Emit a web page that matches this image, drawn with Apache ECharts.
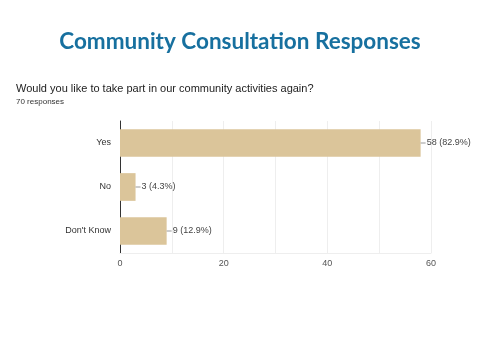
<!DOCTYPE html>
<html><head><meta charset="utf-8">
<script src="https://cdn.jsdelivr.net/npm/echarts@6/dist/echarts.min.js"></script>
<style>html,body{margin:0;padding:0;background:#fff}#c{width:480px;height:360px}</style>
</head><body><div id="c"></div>
<script>
const categories = ['Yes', 'No', "Don't Know"];
const counts = [58, 3, 9];
const percents = ['82.9%', '4.3%', '12.9%'];
const totalResponses = 70;
const xTicks = [0, 20, 40, 60];

const F = '"Liberation Sans", Arial, sans-serif';
const chart = echarts.init(document.getElementById('c'), null, {renderer: 'canvas'});
chart.setOption({
  animation: false,
  backgroundColor: '#fff',
  title: [
    {text: 'Community Consultation Responses', left: 'center', top: 30, padding: 0,
     textStyle: {fontFamily: 'Lato', fontWeight: 'bold', fontSize: 22.5, color: '#17709f'}},
    {text: 'Would you like to take part in our community activities again?', left: 16, top: 83, padding: 0,
     textStyle: {fontFamily: F, fontWeight: 'normal', fontSize: 11, color: '#222'}},
    {text: totalResponses + ' responses', left: 16, top: 98, padding: 0,
     textStyle: {fontFamily: F, fontWeight: 'normal', fontSize: 8, color: '#333'}}
  ],
  grid: {left: 120, right: 49, top: 121, bottom: 107, containLabel: false},
  xAxis: {
    type: 'value', min: 0, max: 60, interval: 10,
    axisLine: {show: true, lineStyle: {color: '#eee'}},
    axisTick: {show: false},
    splitLine: {show: true, lineStyle: {color: '#eee'}},
    axisLabel: {
      color: '#555', fontFamily: F, fontSize: 9, margin: 6,
      formatter: v => xTicks.includes(v) ? String(v) : ''
    }
  },
  yAxis: {
    type: 'category', data: categories, inverse: true,
    axisLine: {show: true, lineStyle: {color: '#333'}},
    axisTick: {show: false},
    axisLabel: {color: '#333', fontFamily: F, fontSize: 9, margin: 9}
  },
  series: [{
    type: 'bar', data: counts, barWidth: '63%',
    itemStyle: {color: '#dbc59a'},
    label: {
      show: true, position: 'right', distance: 0,
      formatter: p => '{l|}{t|' + counts[p.dataIndex] + ' (' + percents[p.dataIndex] + ')}',
      rich: {
        l: {width: 5, height: 1, backgroundColor: '#999'},
        t: {color: '#444', fontFamily: F, fontSize: 9, padding: [0, 0, 0, 1]}
      }
    }
  }]
});
</script></body></html>
